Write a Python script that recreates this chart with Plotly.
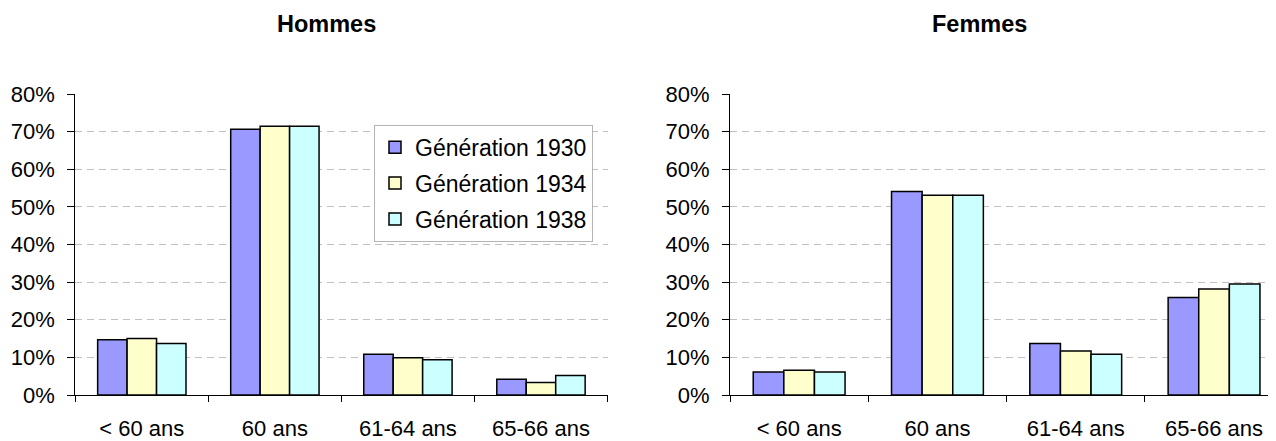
import plotly.graph_objects as go

categories = ["< 60 ans", "60 ans", "61-64 ans", "65-66 ans"]
series_names = ["Génération 1930", "Génération 1934", "Génération 1938"]
hommes_1930 = [14.7, 70.6, 10.8, 4.2]
hommes_1934 = [15.0, 71.4, 9.9, 3.3]
hommes_1938 = [13.7, 71.4, 9.4, 5.2]
femmes_1930 = [6.1, 54.1, 13.7, 25.9]
femmes_1934 = [6.6, 53.1, 11.7, 28.2]
femmes_1938 = [6.1, 53.1, 10.8, 29.5]
y_ticks = [0, 10, 20, 30, 40, 50, 60, 70, 80]
y_tick_labels = ["0%", "10%", "20%", "30%", "40%", "50%", "60%", "70%", "80%"]

colors = ["#9999FF", "#FFFFCC", "#CCFFFF"]
# the page body has an 8px margin, so the figure is sized to the window minus it
OFF = 8
W, H = 1276 - OFF, 441 - OFF
FONT = "Liberation Sans, Arial, sans-serif"

fig = go.Figure()
hommes = [hommes_1930, hommes_1934, hommes_1938]
femmes = [femmes_1930, femmes_1934, femmes_1938]
for i, name in enumerate(series_names):
    fig.add_trace(go.Bar(x=categories, y=hommes[i], name=name,
                         marker=dict(color=colors[i], line=dict(color="black", width=1.5)),
                         xaxis="x", yaxis="y", legendgroup=name, showlegend=True))
for i, name in enumerate(series_names):
    fig.add_trace(go.Bar(x=categories, y=femmes[i], name=name,
                         marker=dict(color=colors[i], line=dict(color="black", width=1.5)),
                         xaxis="x2", yaxis="y2", legendgroup=name, showlegend=False))

plot_top, plot_bottom = 94 - OFF, 398 - OFF
ph = plot_bottom - plot_top

ax_common = dict(
    type="category", showgrid=False, zeroline=False, showline=True,
    linecolor="black", linewidth=1, ticks="outside", tickson="boundaries",
    ticklen=6, tickcolor="black", tickfont=dict(family=FONT, size=22, color="black"),
    ticklabelstandoff=14,
)
ay_common = dict(
    range=[0, 80], tickvals=y_ticks, ticktext=y_tick_labels, showgrid=True,
    gridcolor="#C0C0C0", griddash="7px,5px", gridwidth=1, zeroline=False,
    showline=True, linecolor="black", linewidth=1, ticks="outside", ticklen=7,
    tickcolor="black", tickfont=dict(family=FONT, size=22, color="black"),
    ticklabelstandoff=8,
)

def px_x(x):
    return (x - OFF) / W

def px_y(y):
    return (plot_bottom - (y - OFF)) / ph

fig.update_layout(
    width=W, height=H,
    margin=dict(l=0, r=0, t=plot_top, b=H - plot_bottom, pad=0),
    paper_bgcolor="white", plot_bgcolor="white",
    barmode="group", bargap=0.336, bargroupgap=0,
    font=dict(family=FONT, color="black"),
    xaxis=dict(domain=[px_x(75.3), px_x(607.5)], range=[-0.5, 3.5], anchor="y", **ax_common),
    yaxis=dict(anchor="x", **ay_common),
    xaxis2=dict(domain=[px_x(730), 1.0], range=[-0.5, 3.448], anchor="y2", **ax_common),
    yaxis2=dict(anchor="x2", **ay_common),
    legend=dict(
        x=px_x(374), y=px_y(125),
        xanchor="left", yanchor="top",
        bgcolor="white", bordercolor="#B4B4B4", borderwidth=1,
        font=dict(family=FONT, size=23, color="black"),
        tracegroupgap=3,
    ),
    annotations=[
        dict(text="<b>Hommes</b>", x=px_x(326.3), y=px_y(23.3), xref="paper", yref="paper",
             xanchor="center", yanchor="middle",
             showarrow=False, font=dict(family=FONT, size=23.5)),
        dict(text="<b>Femmes</b>", x=px_x(979.5), y=px_y(23.3), xref="paper", yref="paper",
             xanchor="center", yanchor="middle",
             showarrow=False, font=dict(family=FONT, size=23.5)),
    ],
)

fig.write_html("out.html")
